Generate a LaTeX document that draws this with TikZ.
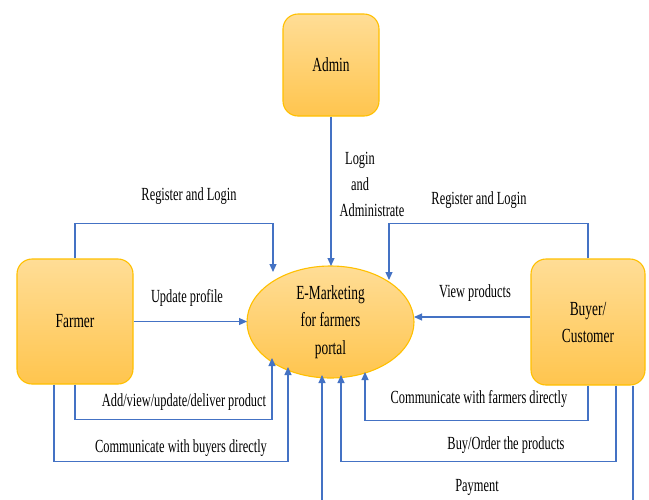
\documentclass[tikz,border=0pt]{standalone}
\usepackage{fontspec}
\setmainfont[FakeStretch=0.67]{Liberation Serif}
\usetikzlibrary{arrows.meta,shapes.geometric,calc}
\definecolor{boxtop}{RGB}{255,221,150}
\definecolor{boxbot}{RGB}{255,197,78}
\definecolor{boxline}{RGB}{255,192,0}
\definecolor{linkblue}{RGB}{68,114,196}
\tikzset{
  entity/.style={draw=boxline, line width=1.1pt, rounded corners=15pt, top color=boxtop, bottom color=boxbot, inner sep=0pt, align=center, font=\fontsize{20}{27}\selectfont},
  proc/.style={ellipse, draw=boxline, line width=1.1pt, top color=boxtop, bottom color=boxbot, inner sep=0pt, align=center, font=\fontsize{20}{27.5}\selectfont},
  conn/.style={draw=linkblue, line width=1.1pt, -{Triangle[length=8pt,width=7pt]}},
  lbl/.style={font=\fontsize{18.5}{26}\selectfont, inner sep=0pt, align=center}
}
\begin{document}
\begin{tikzpicture}[x=1pt,y=-1pt]
\useasboundingbox (0,0) rectangle (649,499);
\clip (0,0) rectangle (649,499);
\fill[white] (0,0) rectangle (649,499);

% nodes
\node[entity, minimum width=96pt, minimum height=102pt] (admin) at (331,65) {Admin};
\node[entity, minimum width=116pt, minimum height=125pt] (farmer) at (75,321.5) {Farmer};
\node[entity, minimum width=114pt, minimum height=126pt] (buyer) at (588,322) {Buyer/\\Customer};
\node[proc, minimum width=167pt, minimum height=112pt] (portal) at (330.5,322) {E-Marketing\\for farmers\\portal};

% arrow end points at the portal
\coordinate (t0) at (331,266);
\coordinate (t1) at (273,272);
\coordinate (t2) at (247,321.5);
\coordinate (t3) at (272,358);
\coordinate (t4) at (288,367);
\coordinate (t5) at (322,375);
\coordinate (t6) at (389,280);
\coordinate (t7) at (414,317);
\coordinate (t8) at (365,372);
\coordinate (t9) at (341,375);

% connectors
\draw[conn] (admin.south) -- (t0);
\draw[conn] (farmer.north) -- ++(0,-35) -| (t1);
\draw[conn] (farmer.east) -- (t2);
\draw[conn] (farmer.south) -- ++(0,35) -| (t3);
\draw[conn] ($(farmer.south)+(-21,0)$) -- ++(0,77) -| (t4);
\draw[conn] ($(buyer.south)+(45,0)$) -- ++(0,140) -| (t5);
\draw[conn] (buyer.north) -- ++(0,-35) -| (t6);
\draw[conn] (buyer.west |- t7) -- (t7);
\draw[conn] (buyer.south) -- ++(0,35) -| (t8);
\draw[conn] ($(buyer.south)+(28,0)$) -- ++(0,76) -| (t9);

% labels
\node[lbl] (l0) at (360,184) {Login\\and\\\hspace*{24pt}Administrate};
\node[lbl] (l1) at (189,196) {Register and Login};
\node[lbl] (l2) at (187,298) {Update profile};
\node[lbl] (l3) at (184,402) {Add/view/update/deliver product};
\node[lbl] (l4) at (181,448) {Communicate with buyers directly};
\node[lbl] (l5) at (479,200) {Register and Login};
\node[lbl] (l6) at (475,293) {View products};
\node[lbl] (l7) at (479,399) {Communicate with farmers directly};
\node[lbl] (l8) at (506,445) {Buy/Order the products};
\node[lbl] (l9) at (477,487) {Payment};
\end{tikzpicture}
\end{document}
